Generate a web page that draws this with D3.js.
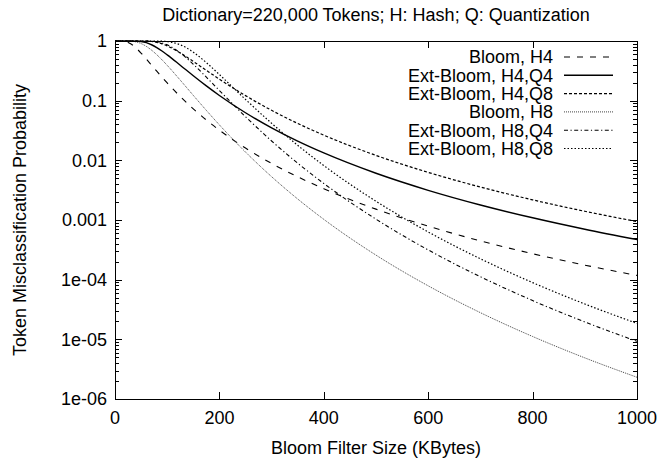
<!DOCTYPE html>
<html>
<head>
<meta charset="utf-8">
<script src="https://cdn.jsdelivr.net/npm/d3@7"></script>
<style>
  html, body { margin: 0; padding: 0; background: #fff; }
  text { font-family: "Liberation Sans", Arial, Helvetica, sans-serif; fill: #000; }
</style>
</head>
<body>
<svg id="chart" width="660" height="460"></svg>
<script>
// Filter size in KBytes (x positions of the sampled points)
const sizesKB = [0, 10, 20, 30, 40, 50, 60, 70, 80, 90, 100, 125, 150, 175, 200, 250, 300, 350, 400, 500, 600, 700, 800, 900, 1000];

// Misclassification probability per configuration
const bloomH4 = [1, 0.99993, 0.98375, 0.90161, 0.76780, 0.62515, 0.49816, 0.39397, 0.31163, 0.24763, 0.19810, 0.1173, 0.072942, 0.04742, 0.032032, 0.016056, 0.008878, 0.005290, 0.003341, 0.0015207, 7.875e-4, 4.471e-4, 2.723e-4, 1.752e-4, 1.1776e-4];
const extH4Q4 = [1, 1, 1, 0.99991, 0.99709, 0.98026, 0.93657, 0.86511, 0.77546, 0.67958, 0.58649, 0.39291, 0.26137, 0.17661, 0.12210, 0.06269, 0.035042, 0.020992, 0.013297, 0.006069, 0.003146, 0.0017872, 0.0010887, 7.0055e-4, 4.7093e-4];
const extH4Q8 = [1, 1, 1, 1, 0.99999, 0.99961, 0.99598, 0.98181, 0.94958, 0.89733, 0.82901, 0.63144, 0.45442, 0.32203, 0.22930, 0.12146, 0.068857, 0.041544, 0.026418, 0.012101, 0.006283, 0.0035712, 0.0021758, 0.0014001, 9.4164e-4];
const bloomH8 = [1, 1, 0.99987, 0.99478, 0.96777, 0.90590, 0.81292, 0.70265, 0.58948, 0.48378, 0.39083, 0.22080, 0.12265, 0.068722, 0.039245, 0.013762, 0.0053204, 0.0022482, 0.0010261, 2.578e-4, 7.882e-5, 2.7982e-5, 1.1166e-5, 4.891e-6, 2.3126e-6];
const extH8Q4 = [1, 1, 1, 1, 1, 0.99992, 0.99878, 0.99218, 0.97160, 0.92899, 0.86229, 0.63137, 0.40750, 0.24783, 0.14798, 0.05392, 0.021112, 0.008963, 0.004098, 0.0010310, 3.1527e-4, 1.1192e-4, 4.4664e-5, 1.9564e-5, 9.250e-6];
const extH8Q8 = [1, 1, 1, 1, 1, 1, 0.999998, 0.99994, 0.99919, 0.99496, 0.98104, 0.86411, 0.64894, 0.43424, 0.27406, 0.10494, 0.041779, 0.017845, 0.008179, 0.002061, 6.3052e-4, 2.2383e-4, 8.9326e-5, 3.9128e-5, 1.850e-5];

const seriesNames = ["Bloom, H4", "Ext-Bloom, H4,Q4", "Ext-Bloom, H4,Q8", "Bloom, H8", "Ext-Bloom, H8,Q4", "Ext-Bloom, H8,Q8"];
const seriesValues = [bloomH4, extH4Q4, extH4Q8, bloomH8, extH8Q4, extH8Q8];

const xTicks = [0, 200, 400, 600, 800, 1000];
const yTicks = [1, 0.1, 0.01, 0.001, 1e-4, 1e-5, 1e-6];
const yTickLabels = ["1", "0.1", "0.01", "0.001", "1e-04", "1e-05", "1e-06"];

const titleText = "Dictionary=220,000 Tokens; H: Hash; Q: Quantization";
const xTitle = "Bloom Filter Size (KBytes)";
const yTitle = "Token Misclassification Probability";

// Line styles, one per series (gnuplot-like dash patterns)
const styles = [
  { dash: "6,7",            width: 1.1, color: "#000" },
  { dash: null,             width: 1.4, color: "#000" },
  { dash: "3,2",            width: 1.2, color: "#000" },
  { dash: "1,1",            width: 1.0, color: "#444" },
  { dash: "4,2.5,1.2,2.5",  width: 1.1, color: "#000" },
  { dash: "1.5,2",          width: 1.2, color: "#000" }
];

const svg = d3.select("#chart");
const margin = { left: 115, right: 23, top: 41, bottom: 61 };
const W = 660, H = 460;
const plotW = W - margin.left - margin.right;
const plotH = H - margin.top - margin.bottom;

const x = d3.scaleLinear().domain([0, 1000]).range([margin.left, margin.left + plotW]);
const y = d3.scaleLog().domain([1e-6, 1]).range([margin.top + plotH, margin.top]);

const fontSize = 18;

// Minor ticks (2..9 within each decade)
const minor = [];
for (let e = -6; e < 0; e++) {
  for (let m = 2; m <= 9; m++) minor.push(m * Math.pow(10, e));
}

const g = svg.append("g");

// Tick marks drawn inward on all four sides
const tickG = g.append("g").attr("stroke", "#000").attr("stroke-width", 1);
yTicks.forEach(v => {
  const yy = Math.round(y(v)) + 0.5;
  tickG.append("line").attr("x1", x(0)).attr("x2", x(0) + 7).attr("y1", yy).attr("y2", yy);
  tickG.append("line").attr("x1", x(1000)).attr("x2", x(1000) - 7).attr("y1", yy).attr("y2", yy);
});
minor.forEach(v => {
  const yy = Math.round(y(v)) + 0.5;
  tickG.append("line").attr("x1", x(0)).attr("x2", x(0) + 4).attr("y1", yy).attr("y2", yy);
  tickG.append("line").attr("x1", x(1000)).attr("x2", x(1000) - 4).attr("y1", yy).attr("y2", yy);
});
xTicks.forEach(v => {
  const xx = Math.round(x(v)) + 0.5;
  tickG.append("line").attr("x1", xx).attr("x2", xx).attr("y1", y(1e-6)).attr("y2", y(1e-6) - 7);
  tickG.append("line").attr("x1", xx).attr("x2", xx).attr("y1", y(1)).attr("y2", y(1) + 7);
});

// Tick labels
g.selectAll("text.ylab").data(yTicks).enter().append("text")
  .attr("class", "ylab")
  .attr("x", x(0) - 8)
  .attr("y", d => y(d))
  .attr("dy", "0.35em")
  .attr("text-anchor", "end")
  .style("font-size", fontSize + "px")
  .text((d, i) => yTickLabels[i]);

g.selectAll("text.xlab").data(xTicks).enter().append("text")
  .attr("class", "xlab")
  .attr("x", d => x(d))
  .attr("y", y(1e-6) + 25)
  .attr("text-anchor", "middle")
  .style("font-size", fontSize + "px")
  .text(d => String(d));

// Titles
svg.append("text").attr("x", 376).attr("y", 21).attr("text-anchor", "middle")
  .style("font-size", fontSize + "px").text(titleText);
svg.append("text").attr("x", (x(0) + x(1000)) / 2).attr("y", 454).attr("text-anchor", "middle")
  .style("font-size", fontSize + "px").text(xTitle);
svg.append("text").attr("transform", "translate(26," + ((y(1) + y(1e-6)) / 2) + ") rotate(-90)")
  .attr("text-anchor", "middle").style("font-size", fontSize + "px").text(yTitle);

// Curves, clipped to the plot area
svg.append("defs").append("clipPath").attr("id", "plotclip")
  .append("rect").attr("x", x(0)).attr("y", y(1) - 1).attr("width", plotW).attr("height", plotH + 2);

const line = d3.line()
  .x((d, i) => x(sizesKB[i]))
  .y(d => y(d))
  .curve(d3.curveMonotoneX);

const curves = svg.append("g").attr("clip-path", "url(#plotclip)");
seriesValues.forEach((vals, k) => {
  const p = curves.append("path")
    .attr("d", line(vals))
    .attr("fill", "none")
    .attr("stroke", styles[k].color)
    .attr("stroke-width", styles[k].width);
  if (styles[k].dash) p.attr("stroke-dasharray", styles[k].dash);
});

// Legend (top right, inside the frame)
const legend = svg.append("g");
seriesNames.forEach((name, k) => {
  const ly = 57 + 18.3 * k;
  legend.append("text").attr("x", 553).attr("y", ly).attr("dy", "0.35em")
    .attr("text-anchor", "end").style("font-size", fontSize + "px").text(name);
  const l = legend.append("line").attr("x1", 564).attr("x2", 613).attr("y1", ly).attr("y2", ly)
    .attr("stroke", styles[k].color).attr("stroke-width", styles[k].width);
  if (styles[k].dash) l.attr("stroke-dasharray", styles[k].dash);
});

// Frame
svg.append("rect")
  .attr("x", Math.round(x(0)) + 0.5).attr("y", Math.round(y(1)) + 0.5)
  .attr("width", Math.round(plotW)).attr("height", Math.round(plotH))
  .attr("fill", "none").attr("stroke", "#000").attr("stroke-width", 1);
</script>
</body>
</html>
